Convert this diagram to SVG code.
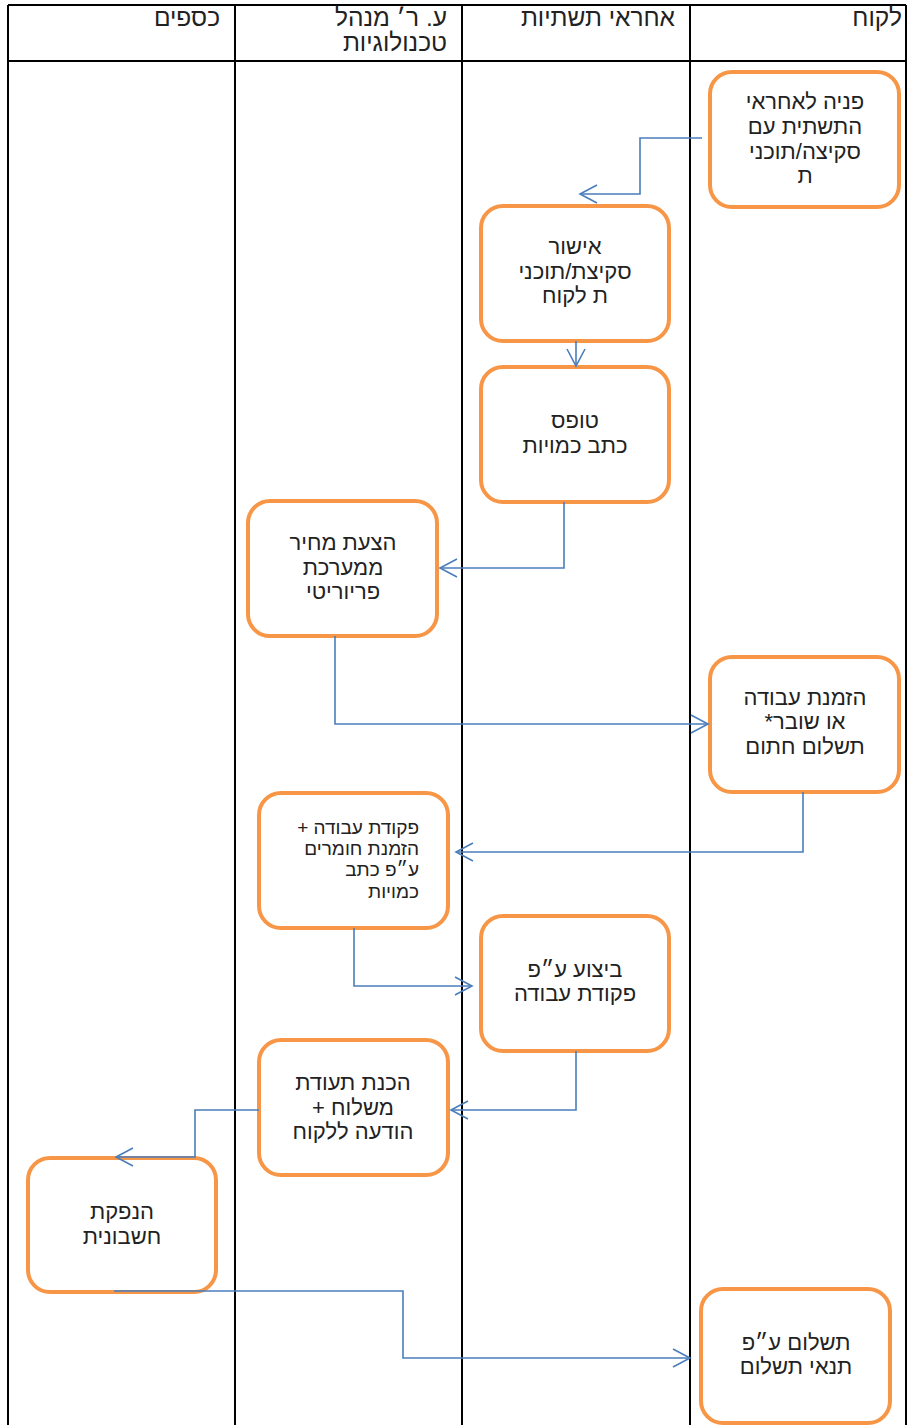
<svg xmlns="http://www.w3.org/2000/svg" width="907" height="1425" viewBox="0 0 907 1425">
<style>
.grid{stroke:#000;stroke-width:2;fill:none}
.node rect{fill:#fff;stroke:#F79646;stroke-width:4}
text{font-family:"Liberation Sans","DejaVu Sans",sans-serif;fill:#222;direction:rtl}
.t{font-size:22px;text-anchor:middle}
.h{font-size:24.5px;text-anchor:start}
.s{font-size:19px;text-anchor:start}
.conn path{fill:none;stroke:#4A7EBB;stroke-width:1.6}
</style>
<defs>
<marker id="arr" markerUnits="userSpaceOnUse" markerWidth="20" markerHeight="20" refX="18" refY="10" orient="auto">
<path d="M1,1 L18,10 L1,19" fill="none" stroke="#4A7EBB" stroke-width="1.6"/>
</marker>
</defs>
<rect width="907" height="1425" fill="#fff"/>
<g id="table">
<path class="grid" d="M8,5 H906 M8,61 H906 M8,5 V1425 M235,5 V1425 M462,5 V1425 M690,5 V1425 M906,5 V1425"/>
<text class="h" x="902" y="26">לקוח</text>
<text class="h" x="675" y="26">אחראי תשתיות</text>
<text class="h" x="447" y="26">ע. ר׳ מנהל</text>
<text class="h" x="447" y="51">טכנולוגיות</text>
<text class="h" x="220" y="26">כספים</text>
</g>
<g class="node" id="n1"><rect x="710" y="72" width="189" height="135" rx="22"/>
<text class="t" x="805" y="109">פניה לאחראי</text><text class="t" x="805" y="134">התשתית עם</text><text class="t" x="805" y="159">סקיצה/תוכני</text><text class="t" x="805" y="183">ת</text></g>
<g class="node" id="n2"><rect x="481" y="206" width="188" height="135" rx="22"/>
<text class="t" x="575" y="254">אישור</text><text class="t" x="575" y="279">סקיצת/תוכני</text><text class="t" x="575" y="303">ת לקוח</text></g>
<g class="node" id="n3"><rect x="481" y="367" width="188" height="135" rx="22"/>
<text class="t" x="575" y="428">טופס</text><text class="t" x="575" y="453">כתב כמויות</text></g>
<g class="node" id="n4"><rect x="248" y="501" width="189" height="135" rx="22"/>
<text class="t" x="343" y="550">הצעת מחיר</text><text class="t" x="343" y="575">ממערכת</text><text class="t" x="343" y="599">פריוריטי</text></g>
<g class="node" id="n5"><rect x="710" y="657" width="189" height="135" rx="22"/>
<text class="t" x="805" y="705">הזמנת עבודה</text><text class="t" x="805" y="729">או שובר*</text><text class="t" x="805" y="754">תשלום חתום</text></g>
<g class="node" id="n6"><rect x="259" y="793" width="189" height="135" rx="22"/>
<text class="s" x="419" y="834">פקודת עבודה +</text><text class="s" x="419" y="855">הזמנת חומרים</text><text class="s" x="419" y="876">ע״פ כתב</text><text class="s" x="419" y="898">כמויות</text></g>
<g class="node" id="n7"><rect x="481" y="916" width="188" height="135" rx="22"/>
<text class="t" x="575" y="977">ביצוע ע״פ</text><text class="t" x="575" y="1001">פקודת עבודה</text></g>
<g class="node" id="n8"><rect x="259" y="1040" width="189" height="135" rx="22"/>
<text class="t" x="353" y="1090">הכנת תעודת</text><text class="t" x="353" y="1115">משלוח +</text><text class="t" x="353" y="1139">הודעה ללקוח</text></g>
<g class="node" id="n9"><rect x="28" y="1158" width="188" height="134" rx="22"/>
<text class="t" x="122" y="1219">הנפקת</text><text class="t" x="122" y="1244">חשבונית</text></g>
<g class="node" id="n10"><rect x="701" y="1289" width="189" height="134" rx="22"/>
<text class="t" x="796" y="1350">תשלום ע״פ</text><text class="t" x="796" y="1374">תנאי תשלום</text></g>
<g class="conn" id="connectors">
<path d="M702,138 H640 V194 H580" marker-end="url(#arr)"/>
<path d="M576,341 V366" marker-end="url(#arr)"/>
<path d="M564,502 V568 H440" marker-end="url(#arr)"/>
<path d="M335,636 V724 H708" marker-end="url(#arr)"/>
<path d="M803,792 V852 H456" marker-end="url(#arr)"/>
<path d="M354,928 V986 H472" marker-end="url(#arr)"/>
<path d="M576,1051 V1110 H451" marker-end="url(#arr)"/>
<path d="M259,1110 H195 V1157 H116" marker-end="url(#arr)"/>
<path d="M114,1291 H403 V1358 H690" marker-end="url(#arr)"/>
</g>
</svg>
